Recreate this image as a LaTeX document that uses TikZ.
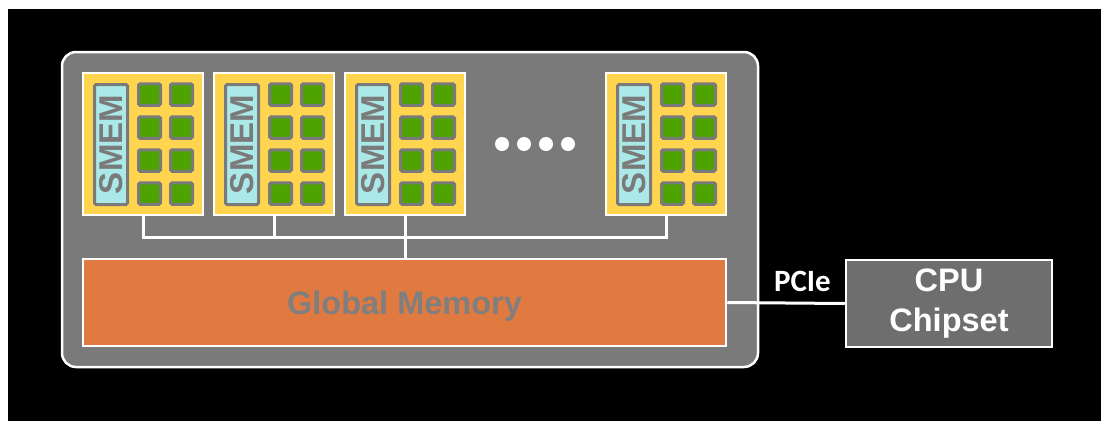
\documentclass[tikz,border=0pt]{standalone}
\usepackage{fontspec}
\setmainfont{Liberation Sans}
\newfontfamily\pciefont{Carlito}
\definecolor{gpugray}{HTML}{7A7A7A}
\definecolor{cpugray}{HTML}{6E6E6E}
\definecolor{smyellow}{HTML}{FFD550}
\definecolor{smemcyan}{HTML}{ABE8E8}
\definecolor{coregreen}{HTML}{4EA300}
\definecolor{memorange}{HTML}{E17A40}
\definecolor{textgray}{HTML}{7F7F7F}
\tikzset{
  whitebox/.style={draw=white, line width=2.5pt, inner sep=0pt},
  gpubox/.style={whitebox, fill=gpugray, rounded corners=14pt, minimum width=696pt, minimum height=315pt},
  smbox/.style={whitebox, fill=smyellow, minimum width=120pt, minimum height=142pt},
  smembox/.style={draw=gpugray, line width=3pt, fill=smemcyan, rounded corners=1.5pt, inner sep=0pt,
    minimum width=120pt, minimum height=33pt, text=gpugray, font=\bfseries\fontsize{33}{33}\selectfont},
  corebox/.style={draw=gpugray, line width=3pt, fill=coregreen, rounded corners=1.5pt, inner sep=0pt,
    minimum width=22pt, minimum height=21.5pt},
  membox/.style={whitebox, fill=memorange, minimum width=643pt, minimum height=87pt,
    text height=23.3pt, text depth=0pt,
    text=textgray, font=\bfseries\fontsize{32.5}{32.5}\selectfont},
  cpubox/.style={whitebox, fill=cpugray, minimum width=206pt, minimum height=87pt,
    text=white, align=center, font=\bfseries\fontsize{32.5}{40}\selectfont},
  wire/.style={draw=white, line width=3pt},
  dotmark/.style={fill=white},
}
\newcommand{\smblock}[2]{%
  \node[smbox] (#1) at (#2,144) {};
  \node[smembox, rotate=90] (#1mem) at ([xshift=-32pt,yshift=-0.5pt]#1.center) {SMEM};
  \foreach \cx/\ci in {6.5/a,38.5/b}{
    \foreach \cy/\cj in {49.5/1,16.5/2,-16.5/3,-49.5/4}{
      \node[corebox] (#1core\ci\cj) at ([xshift=\cx pt,yshift=\cy pt]#1.center) {};
    }
  }%
}
\begin{document}
\begin{tikzpicture}[x=1pt,y=-1pt]
\useasboundingbox (0,0) rectangle (1101,421);
\fill[white] (0,0) rectangle (1101,421);
\fill[black] (8,9) rectangle (1101,421);
\node[gpubox] (gpu) at (410,209.5) {};
\smblock{smA}{143}
\smblock{smB}{274}
\smblock{smC}{405}
\smblock{smD}{666}
\foreach \dx in {502,524,546,568} \fill[dotmark] (\dx,144) circle (7);
\node[membox] (gmem) at (404.5,302.5) {Global Memory};
\coordinate (busL) at (143,237);
\draw[wire] (smA.south) |- (smD.south |- busL) -- (smD.south);
\draw[wire] (smB.south) -- (smB.south |- busL);
\draw[wire] (smC.south) -- (smC.south |- gmem.north);
\node[cpubox] (cpu) at (949,303.5) {CPU\\Chipset};
\draw[wire] (gmem.east) -- (cpu.west) node[pos=0.64, above=7pt, text=white, font=\pciefont\bfseries\fontsize{31}{31}\selectfont] (pcie) {PCIe};
\end{tikzpicture}
\end{document}
